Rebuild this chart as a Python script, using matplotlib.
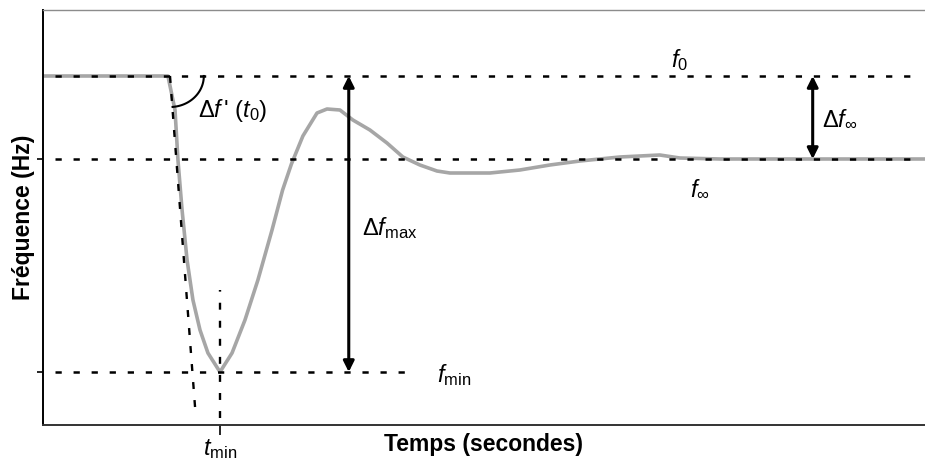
import numpy as np
import matplotlib
matplotlib.use("Agg")
import matplotlib.pyplot as plt

plt.rcParams["font.family"] = ["Liberation Sans", "DejaVu Sans"]
plt.rcParams["mathtext.fontset"] = "custom"
plt.rcParams["mathtext.rm"] = "Liberation Sans"
plt.rcParams["mathtext.it"] = "Liberation Sans:italic"
plt.rcParams["mathtext.bf"] = "Liberation Sans:bold"
plt.rcParams["lines.scale_dashes"] = False

# frequency response after a loss of generation (s, Hz)
temps = [0.0, 4.25, 4.49, 4.59, 4.73, 4.90, 5.10, 5.34, 5.61, 6.02, 6.43, 6.87,
         7.31, 7.79, 8.15, 8.45, 8.84, 9.32, 9.66, 10.10, 10.54, 11.12, 11.70,
         12.24, 12.82, 13.40, 13.84, 15.20, 16.22, 17.24, 18.26, 19.62, 20.98,
         21.66, 23.02, 30.0]
freq = [50.0, 50.0, 49.83, 49.58, 49.33, 49.08, 48.88, 48.73, 48.615, 48.52,
        48.615, 48.78, 48.98, 49.23, 49.43, 49.56, 49.70, 49.815, 49.835, 49.83,
        49.78, 49.73, 49.665, 49.595, 49.555, 49.525, 49.515, 49.515, 49.53,
        49.555, 49.575, 49.595, 49.605, 49.59, 49.585, 49.585]

f0 = 50.0
f_inf = 49.585
f_min = 48.52
t0 = 4.32
t_min = 6.02
t_tangent_end = 5.20
y_bas = 48.29

fig = plt.figure(figsize=(9.25, 4.63), dpi=100)
ax = fig.add_axes([43 / 925, 38 / 463, 1 - 43 / 925, 415 / 463])
ax.set_xlim(0, 30)
ax.set_ylim(48.255, 50.33)

ax.plot(temps, freq, color="#a6a6a6", lw=2.6, zorder=2)

dash = dict(color="black", lw=1.8, dashes=(4.5, 8.5), zorder=3)
ax.plot([0.4, 29.8], [f0, f0], **dash)
ax.plot([0.4, 29.8], [f_inf, f_inf], **dash)
ax.plot([0.4, 12.65], [f_min, f_min], **dash)

vdash = dict(color="black", lw=1.7, dashes=(5.0, 8.0), zorder=3)
ax.plot([t0, t_tangent_end], [f0, y_bas], **vdash)
ax.plot([t_min, t_min], [y_bas, 48.93], **vdash)

# arc showing the initial slope
phi = np.radians(np.linspace(0, 85.6, 40))
ax.plot(t0 + 1.15 * np.cos(phi), f0 - 0.155 * np.sin(phi), color="black", lw=1.5)

arr = dict(arrowstyle="<|-|>", color="black", lw=2.2, mutation_scale=16,
           shrinkA=0, shrinkB=0)
ax.annotate("", xy=(10.40, f0), xytext=(10.40, f_min), arrowprops=arr)
ax.annotate("", xy=(26.18, f0), xytext=(26.18, f_inf), arrowprops=arr)

fs = 17
ax.text(21.66, 50.08, r"$f_0$", fontsize=fs, ha="center", va="center")
ax.text(5.27, 49.83, r"$\Delta f\,$' ($t_0$)", fontsize=fs, ha="left", va="center")
ax.text(10.85, 49.24, r"$\Delta f_{\mathrm{max}}$", fontsize=fs, ha="left", va="center")
ax.text(26.49, 49.78, r"$\Delta f_{\infty}$", fontsize=fs, ha="left", va="center")
ax.text(22.34, 49.43, r"$f_{\infty}$", fontsize=fs, ha="center", va="center")
ax.text(13.40, 48.505, r"$f_{\mathrm{min}}$", fontsize=fs, ha="left", va="center")

ax.set_xticks([t_min])
ax.set_xticklabels([r"$t_{\mathrm{min}}$"], fontsize=fs)
ax.tick_params(axis="x", length=7, width=1.2, pad=2)
ax.set_yticks([f_inf, f_min])
ax.set_yticklabels([])
ax.tick_params(axis="y", length=4, width=1.2)

ax.spines["right"].set_visible(False)
ax.spines["top"].set_color("#8c8c8c")
ax.spines["top"].set_linewidth(1.0)
ax.spines["left"].set_linewidth(1.4)
ax.spines["bottom"].set_color("#333333")
ax.spines["bottom"].set_linewidth(1.4)

ax.set_xlabel("Temps (secondes)", fontsize=16.5, fontweight="bold")
ax.set_ylabel("Fréquence (Hz)", fontsize=16.5, fontweight="bold")
ax.xaxis.set_label_coords(0.5, -0.019)
ax.yaxis.set_label_coords(-0.009, 0.5)

fig.savefig("out.png", dpi=100)
